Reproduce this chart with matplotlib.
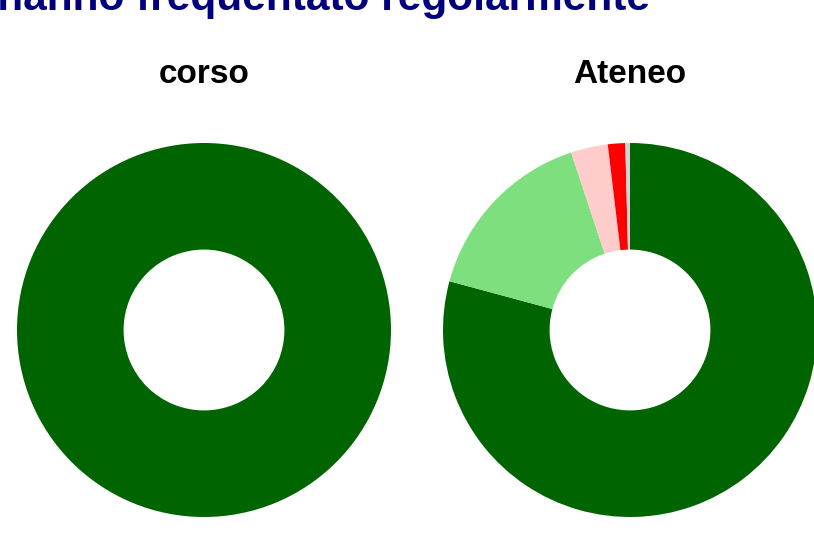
import matplotlib.pyplot as plt

plt.rcParams["font.family"] = ["Liberation Sans", "DejaVu Sans"]

# data
title = "Studenti che hanno frequentato regolarmente"
panels = ["corso", "Ateneo"]
labels = ["più del 75%", "tra il 50% e il 75%", "tra il 25% e il 50%",
          "meno del 25%", "non rispondono"]
corso = [100.0, 0, 0, 0, 0]
ateneo = [79.2, 15.7, 3.2, 1.5, 0.4]
colors = ["#006400", "#7ddf7d", "#ffcccc", "#ff0000", "#d3d3d3"]

fig = plt.figure(figsize=(8.14, 5.4), dpi=100)
W, H = 814, 540

# title sits partly above the top edge, as in the original
fig.text(650 / W, 1 - 10 / H, title, ha="right", va="baseline",
         fontsize=30.5, fontweight="bold", color="#00007f")

centers = [204, 630]
r = 187
for name, vals, cx in zip(panels, [corso, ateneo], centers):
    ax = fig.add_axes([(cx - r) / W, (H - 330 - r) / H, 2 * r / W, 2 * r / H])
    ax.pie(vals, colors=colors, startangle=90, counterclock=False,
           radius=1, wedgeprops=dict(width=0.57, linewidth=0))
    ax.set_xlim(-1, 1)
    ax.set_ylim(-1, 1)
    ax.set_aspect("equal")
    ax.axis("off")
    fig.text(cx / W, 1 - 83 / H, name, ha="center", va="baseline",
             fontsize=24, fontweight="bold", color="black")

fig.savefig("out.png", dpi=100)
